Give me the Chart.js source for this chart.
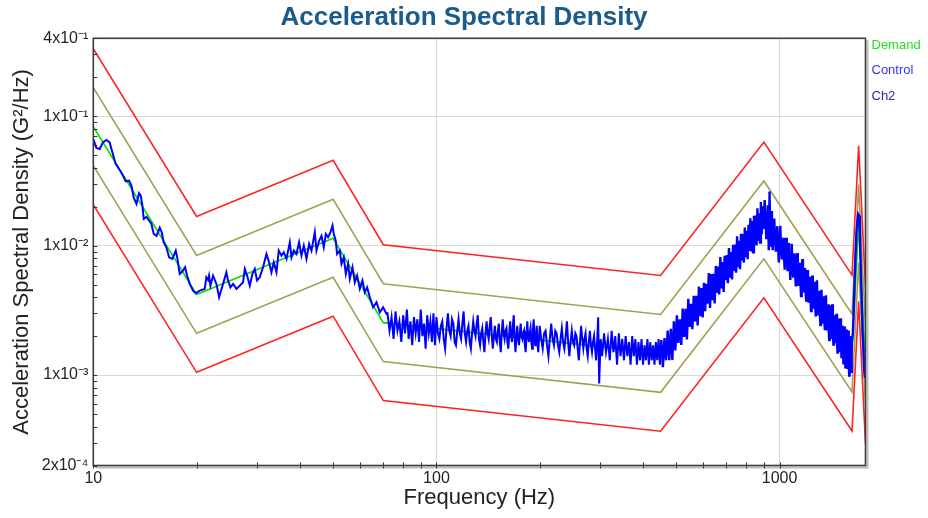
<!DOCTYPE html>
<html><head><meta charset="utf-8">
<script src="https://cdn.jsdelivr.net/npm/chart.js@4.4.1/dist/chart.umd.min.js"></script>
<style>html,body{margin:0;padding:0;background:#fff;overflow:hidden}</style>
</head><body>
<canvas id="c" width="928" height="518"></canvas>
<script>
// ---------- data ----------
const demandFreq   = [10, 20, 50, 70, 450, 900, 1626, 1700, 1780];
const demandPsd    = [0.083, 0.0042, 0.0114, 0.00254, 0.00147, 0.0158, 0.00148, 0.0148, 0.00117];
const alarmHighPsd = [0.166, 0.0084, 0.0228, 0.00508, 0.00294, 0.0316, 0.00296, 0.0296, 0.00234];
const abortHighPsd = [0.332, 0.0168, 0.0456, 0.01016, 0.00588, 0.0632, 0.00592, 0.0592, 0.00468];
const alarmLowPsd  = [0.0415, 0.0021, 0.0057, 0.00127, 0.000735, 0.0079, 0.00074, 0.0074, 0.000585];
const abortLowPsd  = [0.02075, 0.00105, 0.00285, 0.000635, 0.000368, 0.00395, 0.00037, 0.0037, 0.000293];

// control trace, [frequency Hz, PSD G^2/Hz]
const control10to23 = [[10,0.0667],[10.21,0.0568],[10.44,0.0558],[10.67,0.0628],[10.92,0.0655],[11.16,0.0628],[11.37,0.0525],[11.62,0.0428],[11.94,0.0384],[12.21,0.0347],[12.43,0.0314],[12.71,0.0318],[12.91,0.0291],[13.11,0.0236],[13.36,0.021],[13.59,0.0254],[13.75,0.0243],[13.9,0.0204],[14.03,0.0161],[14.29,0.0167],[14.54,0.0156],[14.77,0.0147],[15.0,0.0123],[15.28,0.0119],[15.62,0.0138],[15.83,0.0127],[16.04,0.0106],[16.33,0.0097],[16.63,0.00812],[17.0,0.0079],[17.39,0.00915],[17.59,0.0079],[17.86,0.00605],[18.19,0.00633],[18.51,0.0068],[18.76,0.00587],[19.1,0.00506],[19.53,0.00449],[19.89,0.00428],[20.43,0.00449],[21.12,0.00463],[21.36,0.00569],[21.6,0.00543],[21.74,0.00587],[21.95,0.00491],[22.34,0.00587],[22.85,0.00506],[23.26,0.00399]];
const control23to72 = [[23.88,0.00506],[24.43,0.00622],[24.7,0.00537],[25.1,0.00476],[25.55,0.00506],[26.14,0.00463],[26.72,0.00491],[27.32,0.00521],[27.64,0.00661],[28.06,0.00587],[28.58,0.00491],[29.1,0.00605],[29.55,0.00661],[30.01,0.00537],[30.55,0.00569],[31.24,0.0068],[31.96,0.00863],[32.52,0.00743],[33.05,0.00622],[33.57,0.00743],[34.18,0.00622],[34.71,0.00915],[35.35,0.00837],[35.9,0.00888],[36.56,0.0079],[37.38,0.0106],[37.81,0.00812],[38.39,0.00915],[39.09,0.00863],[39.78,0.0106],[40.43,0.00837],[41.06,0.01],[41.81,0.0079],[42.55,0.0103],[43.24,0.00915],[44.21,0.0127],[44.71,0.00915],[45.5,0.0109],[46.24,0.0119],[46.96,0.0097],[47.6,0.0123],[48.34,0.0116],[49.12,0.0127],[49.79,0.0143],[50.22,0.0123],[50.89,0.0109],[51.34,0.00863],[52.28,0.00915],[52.88,0.00722],[53.7,0.00812],[54.44,0.00605],[55.28,0.00722],[55.91,0.00553],[56.93,0.0068],[57.82,0.00521],[58.72,0.00587],[59.8,0.00463],[60.88,0.00537],[61.83,0.00436],[62.81,0.00476],[63.95,0.00399],[65.4,0.00334],[66.9,0.00365],[68.39,0.00305],[69.92,0.00334],[71.53,0.00297]];
const control72to100 = [[72,0.003],[73,0.0022],[74,0.0028],[75,0.0019],[76,0.0031],[77,0.0022],[78,0.0026],[79,0.0018],[80,0.0029],[81,0.0021],[82,0.0032],[83,0.0019],[84,0.0026],[85,0.0017],[86,0.0028],[87,0.0021],[88,0.0027],[89,0.0018],[90,0.0032],[91,0.002],[92,0.0025],[93,0.0016],[94,0.0029],[95,0.0021],[96,0.0026],[97,0.0018],[98,0.003],[99,0.0017]];
const control100to200 = [[100,0.0028],[101,0.0021],[102,0.0019],[103,0.0024],[104,0.0026],[105,0.0019],[106,0.0016],[107,0.0023],[108,0.003],[109,0.0022],[110,0.002],[111,0.0027],[112,0.0025],[113,0.0018],[114,0.0017],[115,0.0022],[116,0.0027],[117,0.0021],[118,0.0019],[119,0.0025],[120,0.0031],[121,0.0021],[122,0.0018],[123,0.0022],[124,0.0024],[125,0.0018],[126,0.0016],[127,0.0021],[128,0.0026],[129,0.0022],[130,0.002],[131,0.0025],[132,0.0029],[133,0.0019],[134,0.0017],[135,0.0021],[136,0.0023],[137,0.0018],[138,0.0015],[139,0.0021],[140,0.0026],[141,0.0021],[142,0.0019],[143,0.0024],[144,0.0028],[145,0.002],[146,0.0016],[147,0.002],[148,0.0024],[149,0.0019],[150,0.0018],[151,0.0022],[152,0.0025],[153,0.0018],[154,0.0015],[155,0.0021],[156,0.0027],[157,0.0021],[158,0.0019],[159,0.0022],[160,0.0023],[161,0.0018],[162,0.0016],[163,0.0021],[164,0.0026],[165,0.002],[166,0.0018],[167,0.0024],[168,0.0029],[169,0.0019],[170,0.0015],[171,0.002],[172,0.0024],[173,0.0019],[174,0.0017],[175,0.0021],[176,0.0025],[177,0.002],[178,0.0019],[179,0.0021],[180,0.0022],[181,0.0017],[182,0.0015],[183,0.002],[184,0.0026],[185,0.002],[186,0.0018],[187,0.0021],[188,0.0023],[189,0.0018],[190,0.0016],[191,0.0022],[192,0.0027],[193,0.002],[194,0.0017],[195,0.002],[196,0.0024],[197,0.0018],[198,0.0015]];
const control200to450 = [[200,0.0024],[202,0.0019],[204,0.0016],[206,0.0021],[208,0.0022],[210,0.0017],[212,0.0014],[214,0.0019],[216,0.0025],[218,0.0019],[220,0.0017],[222,0.0022],[224,0.0021],[226,0.0017],[228,0.0015],[230,0.0019],[232,0.0023],[234,0.0018],[236,0.0016],[238,0.002],[240,0.0026],[242,0.0018],[244,0.0014],[246,0.0018],[248,0.0022],[250,0.0018],[252,0.0017],[254,0.0021],[256,0.002],[258,0.0016],[260,0.0013],[262,0.0018],[264,0.0024],[266,0.0019],[268,0.0016],[270,0.0019],[272,0.0021],[274,0.0016],[276,0.0014],[278,0.0018],[280,0.0022],[282,0.0017],[284,0.0015],[286,0.0018],[288,0.002],[290,0.0016],[292,0.0013],[294,0.0018],[296,0.0028],[298,0.00086],[301,0.0019],[304,0.0014],[308,0.0021],[312,0.0015],[316,0.0019],[320,0.0013],[324,0.0022],[328,0.0015],[332,0.002],[336,0.0012],[340,0.0021],[344,0.0014],[348,0.0019],[352,0.0013],[356,0.002],[360,0.0014],[364,0.0018],[368,0.0012],[372,0.002],[376,0.0014],[380,0.0019],[384,0.0012],[388,0.0018],[392,0.0013],[396,0.0019],[400,0.0012],[404,0.0017],[408,0.0013],[412,0.0019],[416,0.0012],[420,0.0018],[424,0.0013],[428,0.0017],[432,0.0012],[436,0.0018],[440,0.0013],[444,0.0019],[448,0.0012]];
const control450to900 = [[452,0.00186],[457,0.00115],[462,0.00193],[467,0.0013],[472,0.00221],[477,0.0013],[482,0.00228],[487,0.00131],[492,0.0026],[497,0.00155],[502,0.00289],[507,0.00177],[512,0.0027],[517,0.00171],[522,0.00326],[527,0.00197],[532,0.00325],[537,0.00188],[542,0.00388],[547,0.00235],[552,0.00355],[557,0.00226],[562,0.0041],[567,0.0026],[572,0.00409],[577,0.00242],[582,0.00483],[587,0.00285],[592,0.0047],[597,0.00279],[602,0.00517],[607,0.00312],[612,0.00506],[617,0.00356],[622,0.00615],[627,0.0033],[632,0.00603],[637,0.00378],[642,0.00606],[647,0.00358],[652,0.00697],[657,0.0043],[662,0.0069],[667,0.00419],[672,0.00815],[677,0.00466],[682,0.00747],[687,0.00439],[692,0.00836],[697,0.0054],[702,0.00844],[707,0.00512],[712,0.00957],[717,0.00566],[722,0.00893],[727,0.00548],[732,0.01013],[737,0.00638],[742,0.0102],[747,0.00618],[752,0.0118],[757,0.00682],[762,0.0109],[767,0.00658],[772,0.01234],[777,0.00765],[782,0.0122],[787,0.00739],[792,0.01377],[797,0.00814],[802,0.013],[807,0.00785],[812,0.01447],[817,0.00909],[822,0.01624],[827,0.009],[832,0.01548],[837,0.00888],[842,0.017],[847,0.01028],[852,0.01706],[857,0.01004],[862,0.0194],[867,0.01087],[872,0.01778],[877,0.01056],[882,0.0217],[887,0.01218],[892,0.02018],[897,0.01344]];
const control900to1630 = [[905,0.0225],[915,0.0112],[925,0.0205],[930,0.0092],[935,0.0262],[940,0.0098],[945,0.0185],[950,0.0121],[955,0.00923],[960,0.0132],[965,0.01616],[970,0.0112],[975,0.00896],[980,0.0124],[985,0.01412],[990,0.0098],[995,0.00741],[1000,0.0108],[1005,0.01424],[1010,0.0096],[1015,0.00782],[1020,0.0101],[1025,0.01147],[1030,0.0082],[1035,0.00651],[1040,0.0093],[1045,0.01148],[1050,0.0079],[1055,0.00636],[1060,0.0088],[1065,0.01048],[1070,0.0071],[1075,0.00544],[1080,0.0081],[1085,0.01032],[1090,0.0069],[1095,0.00577],[1100,0.0075],[1105,0.0087],[1110,0.0062],[1115,0.00483],[1120,0.0069],[1125,0.00875],[1130,0.0058],[1135,0.00488],[1140,0.0063],[1145,0.00737],[1150,0.0052],[1155,0.00408],[1160,0.0059],[1165,0.00788],[1170,0.0051],[1175,0.00435],[1180,0.0055],[1185,0.00673],[1190,0.0046],[1195,0.00377],[1200,0.0052],[1205,0.00649],[1210,0.0043],[1215,0.00362],[1220,0.0047],[1225,0.00576],[1230,0.0039],[1235,0.00312],[1240,0.0045],[1245,0.00588],[1250,0.0038],[1255,0.00326],[1260,0.0042],[1265,0.00527],[1270,0.0034],[1275,0.00283],[1280,0.0041],[1285,0.00541],[1290,0.0035],[1295,0.00295],[1300,0.0037],[1305,0.00448],[1310,0.003],[1315,0.00243],[1320,0.0034],[1325,0.00455],[1330,0.0029],[1335,0.00249],[1340,0.0032],[1345,0.00406],[1350,0.0027],[1355,0.00222],[1360,0.0031],[1365,0.00413],[1370,0.0026],[1375,0.00226],[1380,0.0028],[1385,0.00353],[1390,0.0023],[1395,0.00186],[1400,0.0026],[1405,0.00346],[1410,0.0023],[1415,0.00194],[1420,0.0026],[1425,0.00353],[1430,0.0021],[1435,0.00172],[1440,0.0023],[1445,0.0029],[1450,0.0021],[1455,0.0018],[1460,0.0023],[1465,0.00297],[1470,0.0019],[1475,0.00149],[1480,0.0021],[1485,0.00273],[1490,0.0018],[1495,0.00154],[1500,0.002],[1505,0.00275],[1510,0.0017],[1515,0.00138],[1520,0.0019],[1525,0.0024],[1530,0.0016],[1535,0.00123],[1540,0.0017],[1545,0.00237],[1550,0.0015],[1555,0.00115],[1560,0.0016],[1565,0.00225],[1570,0.0015],[1575,0.00114],[1580,0.0016],[1585,0.00221],[1590,0.0014],[1595,0.00099],[1600,0.0014],[1605,0.002],[1610,0.0013],[1615,0.00106],[1620,0.0014],[1625,0.00178]];
const control1630to1780 = [[1635,0.0021],[1645,0.0032],[1655,0.0055],[1665,0.0085],[1675,0.0125],[1685,0.0155],[1695,0.0175],[1705,0.017],[1715,0.012],[1725,0.0065],[1735,0.0038],[1745,0.0022],[1755,0.0016],[1765,0.0011],[1775,0.00095]];

const xTickValues = [10,20,30,40,50,60,70,80,90,100,200,300,400,500,600,700,800,900,1000];
const xTickLabels = {10:'10', 100:'100', 1000:'1000'};
const xGridValues = [100, 1000];
const yTickValues = [0.0002,0.0003,0.0004,0.0005,0.0006,0.0007,0.0008,0.0009,
                     0.001,0.002,0.003,0.004,0.005,0.006,0.007,0.008,0.009,
                     0.01,0.02,0.03,0.04,0.05,0.06,0.07,0.08,0.09,
                     0.1,0.2,0.3,0.4];
const yTickLabels = {'0.0002':'2x10⁻⁴', '0.001':'1x10⁻³', '0.01':'1x10⁻²', '0.1':'1x10⁻¹', '0.4':'4x10⁻¹'};
const yGridValues = [0.001, 0.01, 0.1];
const legendNames = ['Demand', 'Control', 'Ch2'];
const legendColors = ['#22e022', '#3434f2', '#33288e'];

// ---------- build ----------
const FONT = '"Liberation Sans", Arial, Helvetica, sans-serif';
Chart.defaults.font.family = FONT;
const xy = (fs, vs) => fs.map((f, i) => ({x: f, y: vs[i]}));
const controlData = [].concat(control10to23, control23to72, control72to100, control100to200,
  control200to450, control450to900, control900to1630, control1630to1780).map(p => ({x: p[0], y: p[1]}));

const framePlugin = {
  id: 'frame',
  afterDatasetsDraw(chart) {
    const {ctx, chartArea: a, scales} = chart;
    ctx.save();
    ctx.strokeStyle = '#bdbdbd'; ctx.lineWidth = 2;
    ctx.beginPath();
    ctx.moveTo(a.right + 2, a.top + 2); ctx.lineTo(a.right + 2, a.bottom + 2); ctx.lineTo(a.left + 2, a.bottom + 2);
    ctx.stroke();
    ctx.strokeStyle = '#3c3c3c'; ctx.lineWidth = 1.6;
    ctx.strokeRect(a.left, a.top, a.right - a.left, a.bottom - a.top);
    ctx.lineWidth = 1; ctx.strokeStyle = '#333';
    scales.y.ticks.forEach(t => {
      const y = Math.round(scales.y.getPixelForValue(t.value)) + 0.5;
      ctx.beginPath(); ctx.moveTo(a.left, y); ctx.lineTo(a.left + 4, y); ctx.stroke();
    });
    scales.x.ticks.forEach(t => {
      const x = Math.round(scales.x.getPixelForValue(t.value)) + 0.5;
      ctx.beginPath(); ctx.moveTo(x, a.bottom - 3); ctx.lineTo(x, a.bottom + 3); ctx.stroke();
    });
    ctx.font = '13px ' + FONT; ctx.textBaseline = 'middle'; ctx.textAlign = 'left';
    legendNames.forEach((n, i) => { ctx.fillStyle = legendColors[i]; ctx.fillText(n, a.right + 6, 45 + i * 25.5); });
    ctx.restore();
  }
};

const lineDs = (label, data, color, width) => ({
  label, data, borderColor: color, backgroundColor: color, borderWidth: width,
  pointRadius: 0, tension: 0, fill: false
});

const controlDs = lineDs('Control', controlData, '#0000ff', 2);
controlDs.segment = {borderWidth: c => (c.p0.parsed.x >= 450 ? 2.4 : 2)};

new Chart(document.getElementById('c'), {
  type: 'line',
  data: {
    datasets: [
      controlDs,
      lineDs('Demand', xy(demandFreq, demandPsd), '#00e000', 1.6),
      lineDs('Alarm high', xy(demandFreq, alarmHighPsd), '#a3a054', 1.6),
      lineDs('Alarm low', xy(demandFreq, alarmLowPsd), '#a3a054', 1.6),
      lineDs('Abort high', xy(demandFreq, abortHighPsd), '#ff2222', 1.6),
      lineDs('Abort low', xy(demandFreq, abortLowPsd), '#ff2222', 1.6)
    ]
  },
  options: {
    responsive: false, animation: false, devicePixelRatio: 1,
    layout: {padding: 0},
    plugins: {
      legend: {display: false}, tooltip: {enabled: false},
      title: {display: true, text: 'Acceleration Spectral Density', color: '#1a5b8c',
        font: {size: 26, weight: 'bold', family: FONT}, padding: {top: 2, bottom: 5.1}}
    },
    scales: {
      x: {
        type: 'logarithmic', min: 10, max: 1780,
        afterBuildTicks: s => { s.ticks = xTickValues.map(v => ({value: v})); },
        afterFit: s => { s.height = 52.5; },
        ticks: {autoSkip: false, maxRotation: 0, padding: 3, color: '#222', font: {size: 16},
          callback: v => xTickLabels[v] || ''},
        grid: {drawTicks: false, lineWidth: 1,
          color: c => (c.tick && xGridValues.includes(c.tick.value)) ? '#d9d9d9' : 'rgba(0,0,0,0)'},
        border: {display: false},
        title: {display: true, text: 'Frequency (Hz)', color: '#222', font: {size: 22}, padding: {top: 0, bottom: 7}}
      },
      y: {
        type: 'logarithmic', min: 0.0002, max: 0.4, position: 'left',
        afterBuildTicks: s => { s.ticks = yTickValues.map(v => ({value: v})); },
        afterFit: s => { s.width = 93.3; },
        ticks: {autoSkip: false, padding: 5, color: '#222', font: {size: 16},
          callback: v => yTickLabels[String(v)] || ''},
        grid: {drawTicks: false, lineWidth: 1,
          color: c => (c.tick && yGridValues.includes(c.tick.value)) ? '#d9d9d9' : 'rgba(0,0,0,0)'},
        border: {display: false},
        title: {display: true, text: 'Acceleration Spectral Density (G²/Hz)', color: '#222', font: {size: 22}, padding: {top: 9, bottom: 0}}
      },
      legendSpace: {
        type: 'linear', position: 'right', display: true,
        afterFit: s => { s.width = 62.5; },
        ticks: {display: false}, grid: {display: false, drawOnChartArea: false}, border: {display: false}
      }
    }
  },
  plugins: [framePlugin]
});
</script>
</body></html>
